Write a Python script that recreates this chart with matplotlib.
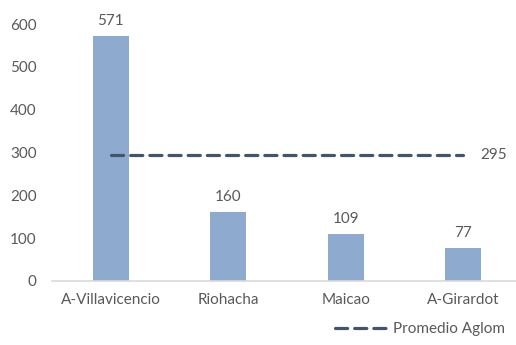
import numpy as np
import matplotlib.pyplot as plt

# data
categories = ['A-Villavicencio', 'Riohacha', 'Maicao', 'A-Girardot']
values = [571, 160, 109, 77]
promedio = 295

bar_color = '#8FAACF'
line_color = '#44546A'
text_color = '#595959'

plt.rcParams['font.family'] = ['Lato', 'DejaVu Sans']

fig = plt.figure(figsize=(5.16, 3.45), dpi=100)
ax = fig.add_axes([52 / 516, 64 / 345, 470 / 516, 257 / 345])

x = np.arange(len(categories))
ax.bar(x, values, width=0.31, color=bar_color, zorder=2)

for xi, v in zip(x, values):
    ax.annotate(str(v), (xi, v), xytext=(0, 6), textcoords='offset points',
                ha='center', va='bottom', fontsize=11, color=text_color)

# average line across the categories
avg = [promedio] * len(categories)
ax.plot(x, avg, color=line_color, lw=2.3, ls=(0, (3.8, 2.2)),
        dash_capstyle='round', zorder=3, label='Promedio Aglom')
ax.annotate(str(promedio), (x[-1], promedio), xytext=(12, 0),
            textcoords='offset points', ha='left', va='center',
            fontsize=11, color=text_color)

ax.set_xlim(-0.5, 3.5)
ax.set_ylim(0, 600)
ax.set_yticks(range(0, 601, 100))
ax.set_xticks(x)
ax.set_xticklabels(categories)
ax.tick_params(axis='both', length=0, labelsize=11, colors=text_color)
ax.tick_params(axis='y', pad=11)
ax.tick_params(axis='x', pad=9)

for side in ['top', 'right', 'left']:
    ax.spines[side].set_visible(False)
ax.spines['bottom'].set_color('#D9D9D9')
ax.spines['bottom'].set_linewidth(1.2)

leg = fig.legend(loc='lower right', bbox_to_anchor=(1.005, -0.015), frameon=False,
                 fontsize=11, handlelength=3.4, handletextpad=0.4)
for t in leg.get_texts():
    t.set_color(text_color)

fig.savefig('out.png', dpi=100)
